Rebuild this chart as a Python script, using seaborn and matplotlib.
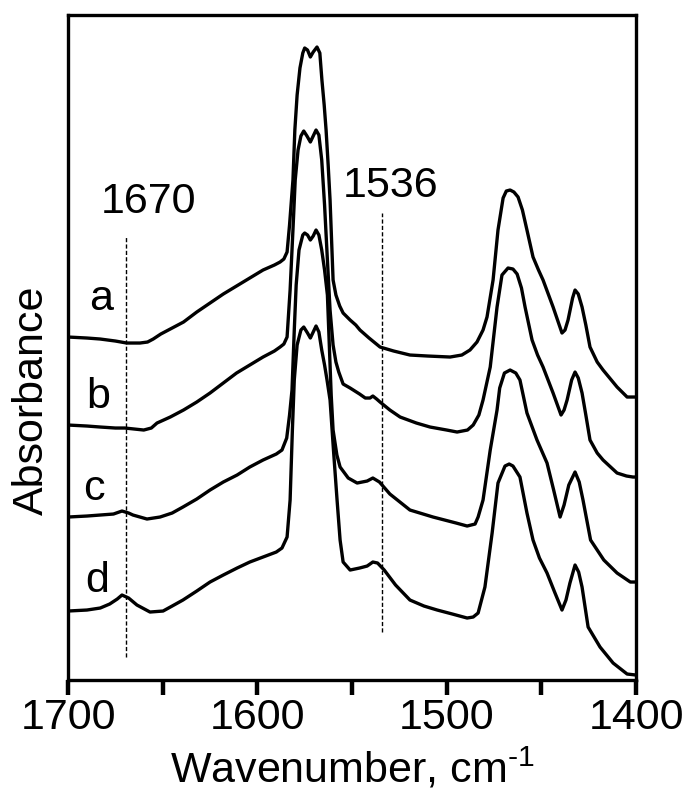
import numpy as np
import pandas as pd
import seaborn as sns
import matplotlib
matplotlib.use("Agg")
import matplotlib.pyplot as plt
from matplotlib.ticker import MultipleLocator

# IR spectra a-d (wavenumber, absorbance in arbitrary offset units)
wn_a = [1700, 1690, 1683, 1675, 1669, 1662, 1658, 1655, 1651, 1645, 1639,
        1632, 1625, 1618, 1611, 1604, 1597, 1591, 1588, 1586, 1584.3,
        1583, 1581.2, 1580.2, 1579, 1577.5, 1576, 1575, 1573.5, 1572, 1570.5,
        1568.5, 1567, 1565.9, 1564.7, 1563.7, 1562.6, 1561.6, 1560.7, 1560, 1558.5,
        1556.5, 1554.7, 1551, 1548, 1545.8, 1541, 1535.2, 1528, 1519.4, 1510,
        1498.2, 1492, 1487.7, 1484, 1480.8, 1478.7, 1475.5, 1472.9, 1470.2, 1468.5,
        1466.5, 1464.5, 1462.3, 1460, 1457.6, 1454.4, 1451.5, 1449.1, 1443.8, 1439.1,
        1437.5, 1435.9, 1433.5, 1432.2, 1430.5, 1428.5, 1426.5, 1424.3, 1420.5, 1417.4,
        1410, 1404.7, 1400]
abs_a = [3.43, 3.42, 3.41, 3.39, 3.37, 3.37, 3.38, 3.41, 3.46, 3.52, 3.58,
         3.68, 3.77, 3.86, 3.94, 4.02, 4.10, 4.15, 4.18, 4.21, 4.28,
         4.55, 5.00, 5.50, 5.85, 6.12, 6.27, 6.32, 6.30, 6.23, 6.28,
         6.33, 6.27, 6.00, 5.75, 5.50, 5.15, 4.80, 4.35, 4.00, 3.85,
         3.74, 3.67, 3.60, 3.55, 3.50, 3.42, 3.33, 3.29, 3.25, 3.24,
         3.23, 3.25, 3.30, 3.38, 3.50, 3.63, 4.00, 4.50, 4.82, 4.89,
         4.90, 4.88, 4.83, 4.70, 4.50, 4.23, 4.10, 4.00, 3.73, 3.47,
         3.50, 3.60, 3.82, 3.90, 3.86, 3.73, 3.55, 3.33, 3.18, 3.10,
         2.93, 2.83, 2.83]

wn_b = [1700, 1690, 1683, 1675, 1670, 1665, 1660, 1656, 1653, 1646, 1639,
        1632, 1625, 1618, 1611, 1604, 1597, 1591, 1588, 1586, 1584.3,
        1582.7, 1581.2, 1580, 1578.5, 1577, 1575.5, 1573.8, 1572, 1570.5, 1569,
        1567.5, 1566, 1564.5, 1563, 1561.6, 1560, 1558.5, 1557, 1554.7, 1551,
        1546, 1543, 1540.5, 1539, 1537, 1535.2, 1530, 1524.6, 1516, 1508.8,
        1500, 1494.5, 1489, 1486, 1483, 1480.8, 1477, 1473.4, 1470.8, 1467.6,
        1465, 1462.8, 1460.5, 1458.6, 1454.9, 1452, 1449.1, 1443.8, 1439.6, 1438,
        1436.4, 1434, 1432.2, 1430.5, 1428.5, 1426.5, 1424.3, 1420.5, 1417.4, 1410,
        1405, 1401.6, 1400]
abs_b = [2.55, 2.54, 2.53, 2.52, 2.52, 2.51, 2.50, 2.52, 2.57, 2.63, 2.70,
         2.78, 2.87, 2.97, 3.07, 3.15, 3.23, 3.29, 3.33, 3.36, 3.43,
         3.90, 4.50, 5.00, 5.30, 5.44, 5.49, 5.44, 5.38, 5.44, 5.50,
         5.45, 5.20, 4.75, 4.20, 3.70, 3.35, 3.18, 3.08, 2.96, 2.92,
         2.86, 2.82, 2.82, 2.84, 2.81, 2.78, 2.70, 2.63, 2.57, 2.53,
         2.50, 2.48, 2.50, 2.55, 2.65, 2.80, 3.13, 3.73, 4.05, 4.12,
         4.11, 4.06, 3.92, 3.73, 3.40, 3.25, 3.13, 2.87, 2.65, 2.70,
         2.80, 3.00, 3.08, 3.02, 2.87, 2.65, 2.40, 2.27, 2.20, 2.07,
         2.04, 2.03, 2.03]

wn_c = [1700, 1690, 1683, 1676, 1671.5, 1668, 1665.7, 1658.3, 1651.4, 1645,
        1639.3, 1632, 1625, 1618, 1610.7, 1604, 1597, 1590, 1587, 1584.5,
        1583, 1581.7, 1580.5, 1579.5, 1578, 1576, 1575, 1573.5, 1572, 1570.5,
        1569, 1567.5, 1566, 1564.5, 1563, 1562, 1561, 1560, 1558, 1556.3,
        1552, 1547.3, 1542, 1539, 1535.5, 1530, 1519.4, 1507.2, 1495, 1489.2,
        1485, 1483.4, 1480.8, 1477, 1473.4, 1472, 1469.5, 1466.5, 1463.5, 1461.3,
        1457.6, 1452.3, 1447, 1443.5, 1440.1, 1438, 1435.5, 1432.2, 1430, 1428,
        1424, 1417, 1410, 1403, 1400]
abs_c = [1.63, 1.64, 1.65, 1.66, 1.69, 1.67, 1.65, 1.61, 1.63, 1.67,
         1.73, 1.81, 1.90, 1.98, 2.05, 2.13, 2.20, 2.26, 2.30, 2.42,
         2.65, 2.90, 3.50, 3.95, 4.30, 4.45, 4.47, 4.45, 4.40, 4.44,
         4.50, 4.45, 4.30, 4.10, 3.85, 3.35, 2.85, 2.50, 2.25, 2.13,
         2.02, 1.97, 1.99, 2.02, 1.98, 1.86, 1.70, 1.63, 1.57, 1.54,
         1.56, 1.63, 1.80, 2.30, 2.70, 2.92, 3.07, 3.10, 3.07, 3.00,
         2.67, 2.40, 2.17, 1.90, 1.63, 1.75, 1.95, 2.08, 1.98, 1.80,
         1.40, 1.20, 1.07, 0.98, 0.98]

wn_d = [1700, 1690, 1683, 1678, 1674, 1671.5, 1668, 1663.6, 1656.7, 1649.8,
        1645, 1639.3, 1632, 1625, 1618, 1610.7, 1604, 1597, 1590, 1587,
        1584.3, 1582.7, 1581.5, 1580.5, 1579, 1577, 1575.5, 1573.5, 1572, 1570.5,
        1569, 1567.5, 1566, 1564.5, 1563.2, 1561.6, 1559.8, 1557.9, 1556.3, 1554.7,
        1551, 1546, 1542, 1539, 1536.5, 1533, 1527, 1519.4, 1512, 1505,
        1497, 1489.2, 1486, 1483.4, 1479.8, 1476, 1472.9, 1469.2, 1467, 1465,
        1461.3, 1457.6, 1454.4, 1451, 1447, 1443, 1439.1, 1437, 1434.9, 1432.2,
        1430.3, 1428.5, 1425.3, 1419, 1412.1, 1404.7, 1400]
abs_d = [0.69, 0.70, 0.72, 0.76, 0.81, 0.85, 0.82, 0.75, 0.68, 0.69,
         0.74, 0.80, 0.89, 0.98, 1.05, 1.12, 1.18, 1.23, 1.28, 1.32,
         1.43, 1.80, 2.50, 3.00, 3.35, 3.50, 3.53, 3.47, 3.42, 3.48,
         3.54, 3.48, 3.30, 3.15, 3.00, 2.80, 2.30, 1.80, 1.40, 1.18,
         1.10, 1.12, 1.14, 1.18, 1.17, 1.10, 0.95, 0.80, 0.74, 0.70,
         0.66, 0.62, 0.63, 0.67, 0.93, 1.47, 1.97, 2.14, 2.16, 2.14,
         2.03, 1.67, 1.40, 1.22, 1.07, 0.88, 0.70, 0.80, 0.97, 1.15,
         1.08, 0.93, 0.53, 0.33, 0.17, 0.06, 0.05]

samples = ["a", "b", "c", "d"]
spectra = {"a": (wn_a, abs_a), "b": (wn_b, abs_b), "c": (wn_c, abs_c), "d": (wn_d, abs_d)}

# marker lines for the 1670 and 1536 bands
band_labels = ["1670", "1536"]
band_wn = [1669.4, 1534.0]
band_top = [4.43, 4.67]
band_bottom = [0.23, 0.48]

rows = []
for s in samples:
    w, a = spectra[s]
    assert len(w) == len(a)
    rows.append(pd.DataFrame({"wavenumber": w, "absorbance": a, "sample": s}))
df = pd.concat(rows, ignore_index=True)

sns.set_style("ticks")
plt.rcParams["font.family"] = ["Liberation Sans", "DejaVu Sans"]
plt.rcParams["mathtext.fontset"] = "custom"
plt.rcParams["mathtext.rm"] = "Liberation Sans"
plt.rcParams["mathtext.it"] = "Liberation Sans:italic"
plt.rcParams["text.color"] = "black"
plt.rcParams["axes.labelcolor"] = "black"
plt.rcParams["xtick.color"] = "black"
plt.rcParams["xtick.labelcolor"] = "black"

fig = plt.figure(figsize=(6.97, 7.99), dpi=100)
ax = fig.add_axes([0.0976, 0.1489, 0.8149, 0.8323])

sns.lineplot(data=df, x="wavenumber", y="absorbance", units="sample", estimator=None,
             sort=False, color="black", linewidth=2.4, ax=ax)

ax.vlines(band_wn, band_bottom, band_top, colors="black", linewidth=1.0,
          linestyles=(0, (3, 1.6)))

fs = 31
# band labels
ax.text(1657.5, 4.67, band_labels[0], fontsize=fs, ha="center", va="baseline")
ax.text(1529.9, 4.83, band_labels[1], fontsize=fs, ha="center", va="baseline")
# sample labels
label_pos = {"a": (1682.6, 3.70), "b": (1684.2, 2.72), "c": (1686.3, 1.80), "d": (1684.7, 0.88)}
for s in samples:
    ax.text(*label_pos[s], s, fontsize=fs, ha="center", va="baseline")

ax.set_xlim(1700, 1400)
ax.set_ylim(0, 6.65)
ax.xaxis.set_major_locator(MultipleLocator(100))
ax.xaxis.set_minor_locator(MultipleLocator(50))
ax.set_yticks([])
ax.tick_params(axis="x", which="both", direction="out", length=11, width=3.2,
               labelsize=fs, pad=2, top=False, color="black", labelcolor="black")
for sp in ax.spines.values():
    sp.set_visible(True)
    sp.set_linewidth(2.4)
    sp.set_color("black")

ax.set_xlabel("Wavenumber, cm$^{\\text{-1}}$", fontsize=fs, labelpad=6)
ax.set_ylabel("Absorbance", fontsize=fs)
ax.yaxis.set_label_coords(-0.028, 0.421)

fig.savefig("out.png", dpi=100)
